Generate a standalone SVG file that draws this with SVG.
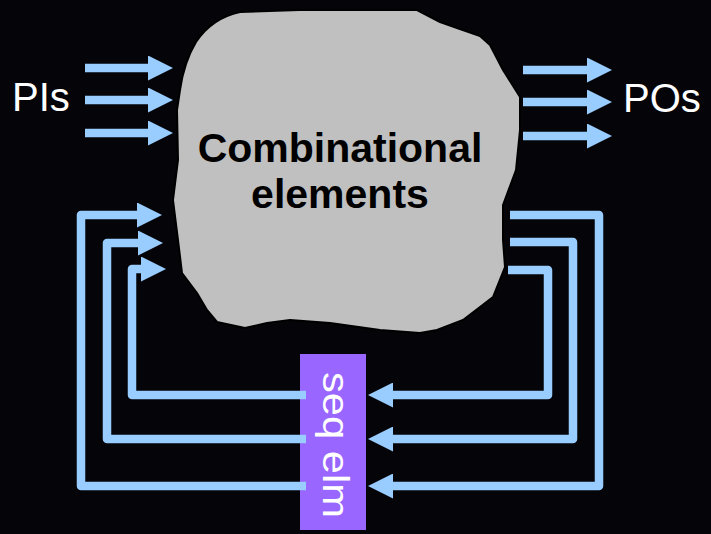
<svg xmlns="http://www.w3.org/2000/svg" width="711" height="534" viewBox="0 0 711 534">
  <style>
    .wire { fill: none; stroke: #99ccff; stroke-width: 8.5; stroke-linejoin: round; }
    .lbl { font-family: "Liberation Sans", Arial, sans-serif; fill: #ffffff; }
    .comb-txt { font-family: "Liberation Sans", Arial, sans-serif; font-weight: bold; font-size: 41px; fill: #000000; text-anchor: middle; }
  </style>
  <defs>
    <marker id="ah" viewBox="0 0 25 25" refX="2" refY="12.5" markerWidth="25" markerHeight="25" markerUnits="userSpaceOnUse" orient="auto">
      <path d="M0,0 L25,12.5 L0,25 z" fill="#99ccff"/>
    </marker>
  </defs>
  <rect x="0" y="0" width="711" height="534" fill="#050509"/>

  <g id="comb">
    <path d="M240,12 L300,10 L417,10 L440,22 L457,28 L480,36 L490,45 L503,70 L520,97 L520,130 L516,170 L503,205 L503,240 L505,267 L493,297 L480,307 L463,320 L437,330 L420,333 L380,330 L330,323 L290,320 L267,323 L245,328 L217,322 L207,310 L197,293 L182,273 L178,240 L173,200 L178,160 L177,110 L180,90 Q184,62 196,42 Q212,18 240,12 Z" fill="#c0c0c0" stroke="#000000" stroke-width="2" stroke-linejoin="round"/>
    <text class="comb-txt" x="340" y="162">Combinational</text>
    <text class="comb-txt" x="340" y="208">elements</text>
  </g>

  <g id="pis">
    <text class="lbl" x="12" y="111" font-size="40">PIs</text>
  </g>
  <g id="pos">
    <text class="lbl" x="623" y="112" font-size="40">POs</text>
  </g>

  <g id="seq">
    <rect x="300" y="354" width="66" height="176" fill="#9966ff"/>
  </g>

  <g id="connectors">
    <path class="wire" d="M85,68 H150" marker-end="url(#ah)"/>
    <path class="wire" d="M85,100 H150" marker-end="url(#ah)"/>
    <path class="wire" d="M85,133 H150" marker-end="url(#ah)"/>
    <path class="wire" d="M523,70 H589" marker-end="url(#ah)"/>
    <path class="wire" d="M523,102 H589" marker-end="url(#ah)"/>
    <path class="wire" d="M523,136 H589" marker-end="url(#ah)"/>
    <path class="wire" d="M306,486 H81 V215 H139" marker-end="url(#ah)"/>
    <path class="wire" d="M306,439 H107 V243 H140" marker-end="url(#ah)"/>
    <path class="wire" d="M306,395 H132 V269 H143" marker-end="url(#ah)"/>
    <path class="wire" d="M510,215 H599 V486 H391" marker-end="url(#ah)"/>
    <path class="wire" d="M510,242 H573 V439 H391" marker-end="url(#ah)"/>
    <path class="wire" d="M508,270 H548 V395 H391" marker-end="url(#ah)"/>
  </g>

  <g id="seq-label">
    <text class="lbl" font-size="36" transform="translate(323,372) rotate(90)" x="0" y="0" textLength="146" lengthAdjust="spacingAndGlyphs">seq elm</text>
  </g>
</svg>
